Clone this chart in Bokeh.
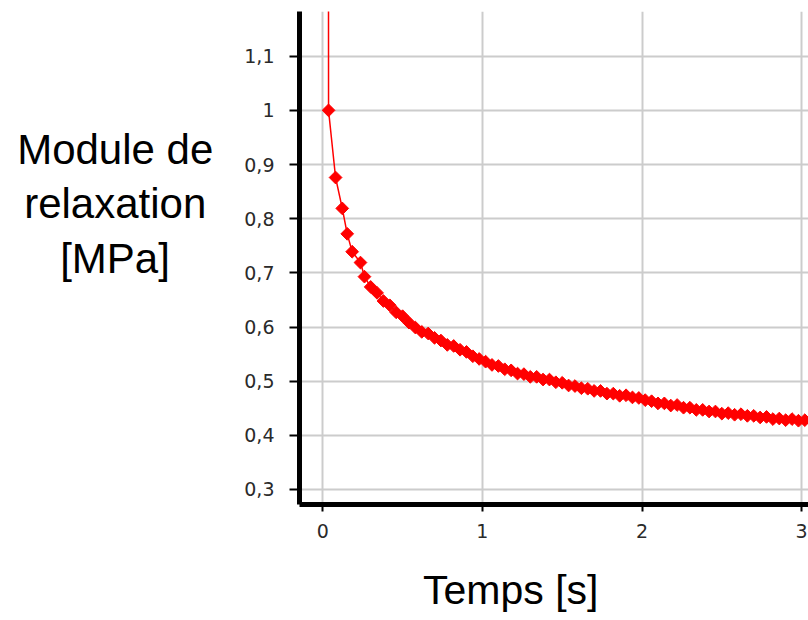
import math
from bokeh.plotting import figure
from bokeh.models import FixedTicker, Range1d, CustomJSTickFormatter
from bokeh.embed import file_html
from bokeh.resources import INLINE

# ---- data ----
time_s = [0.035, 0.036, 0.080, 0.122, 0.153, 0.184, 0.236, 0.261,
          0.30, 0.34, 0.38, 0.42, 0.46, 0.50, 0.54, 0.58, 0.62, 0.66,
          0.70, 0.74, 0.78, 0.82, 0.86, 0.90, 0.94, 0.98, 1.02, 1.06,
          1.10, 1.14, 1.18, 1.22, 1.26, 1.30, 1.34, 1.38, 1.42, 1.46,
          1.50, 1.54, 1.58, 1.62, 1.66, 1.70, 1.74, 1.78, 1.82, 1.86,
          1.90, 1.94, 1.98, 2.02, 2.06, 2.10, 2.14, 2.18, 2.22, 2.26,
          2.30, 2.34, 2.38, 2.42, 2.46, 2.50, 2.54, 2.58, 2.62, 2.66,
          2.70, 2.74, 2.78, 2.82, 2.86, 2.90, 2.94, 2.98, 3.02, 3.06]
modulus_mpa = [1.60, 1.000, 0.876, 0.819, 0.772, 0.739, 0.719, 0.693,
               0.674, 0.663, 0.648, 0.640, 0.627, 0.620, 0.608, 0.599, 0.591, 0.588,
               0.580, 0.575, 0.567, 0.565, 0.558, 0.554, 0.546, 0.541, 0.536, 0.530,
               0.528, 0.522, 0.520, 0.514, 0.513, 0.508, 0.508, 0.503, 0.503, 0.498,
               0.497, 0.492, 0.491, 0.487, 0.486, 0.482, 0.482, 0.477, 0.477, 0.473,
               0.474, 0.470, 0.469, 0.465, 0.463, 0.459, 0.459, 0.455, 0.456, 0.451,
               0.451, 0.447, 0.447, 0.444, 0.444, 0.440, 0.441, 0.438, 0.439, 0.436,
               0.436, 0.433, 0.434, 0.430, 0.431, 0.428, 0.430, 0.427, 0.428, 0.428]

x_ticks = [0, 1, 2, 3]
x_tick_labels = ["0", "1", "2", "3"]
y_ticks = [0.3, 0.4, 0.5, 0.6, 0.7, 0.8, 0.9, 1.0, 1.1]
y_tick_labels = ["0,3", "0,4", "0,5", "0,6", "0,7", "0,8", "0,9", "1", "1,1"]

y_title_lines = ["Module de", "relaxation", "[MPa]"]
x_title = "Temps [s]"

NBSP = "\u00a0"
SIXTH = "\u2006"   # six-per-em space
THIN = "\u2009"    # thin space
# trailing fixed-width spaces centre the shorter lines of the right-aligned block;
# two trailing empty lines lift the block to where the reference has it
y_title_text = "\n".join([y_title_lines[0],
                          y_title_lines[1] + SIXTH,
                          y_title_lines[2] + NBSP * 3 + THIN]) + "\n\n"
# trailing spaces move the centred x title left, as in the reference
x_title_text = x_title + NBSP * 7 + SIXTH

# ---- figure ----
p = figure(width=808, height=620, output_backend="svg", toolbar_location=None,
           x_range=Range1d(-0.146, 3.043), y_range=Range1d(0.2723, 1.1825),
           min_border_left=299, min_border_right=0, min_border_top=11,
           min_border_bottom=116)
p.outline_line_color = None
p.background_fill_color = "white"
p.border_fill_color = "white"

fmt_code = """
const i = tvals.findIndex(t => Math.abs(t - tick) < 1e-9);
return i >= 0 ? tlabels[i] : '';
"""
p.xaxis.ticker = FixedTicker(ticks=x_ticks)
p.xaxis.formatter = CustomJSTickFormatter(args=dict(tvals=x_ticks, tlabels=x_tick_labels), code=fmt_code)
p.yaxis.ticker = FixedTicker(ticks=y_ticks)
p.yaxis.formatter = CustomJSTickFormatter(args=dict(tvals=y_ticks, tlabels=y_tick_labels), code=fmt_code)

for ax in (p.xaxis, p.yaxis):
    ax.axis_line_color = "black"
    ax.axis_line_width = 5
    ax.major_tick_line_color = "black"
    ax.major_tick_line_width = 2
    ax.major_tick_in = 0
    ax.minor_tick_line_color = None
    ax.major_label_text_font = "DejaVu Sans"
    ax.major_label_text_font_size = "19px"
    ax.major_label_text_color = "#2a2a2a"
    ax.axis_label_text_font = "Liberation Sans"
    ax.axis_label_text_font_style = "normal"
    ax.axis_label_text_color = "black"
p.xaxis.major_tick_out = 7
p.xaxis.major_label_standoff = 12
p.yaxis.major_tick_out = 10
p.yaxis.major_label_standoff = 15

p.yaxis.axis_label = y_title_text
p.yaxis.axis_label_orientation = "horizontal"
p.yaxis.axis_label_text_font_size = "42px"
p.yaxis.axis_label_text_line_height = 1.15
p.yaxis.axis_label_standoff = 28

p.xaxis.axis_label = x_title_text
p.xaxis.axis_label_text_font_size = "41px"
p.xaxis.axis_label_standoff = 26

p.xgrid.ticker = FixedTicker(ticks=x_ticks)
p.ygrid.ticker = FixedTicker(ticks=y_ticks)
for g in (p.xgrid, p.ygrid):
    g.grid_line_color = "#cccccc"
    g.grid_line_width = 2

p.line(time_s, modulus_mpa, line_color="red", line_width=1.5)
p.scatter(time_s, modulus_mpa, marker="square", angle=math.pi / 4, size=9,
          fill_color="red", line_color="red")

open("out.html", "w").write(file_html(p, INLINE))
